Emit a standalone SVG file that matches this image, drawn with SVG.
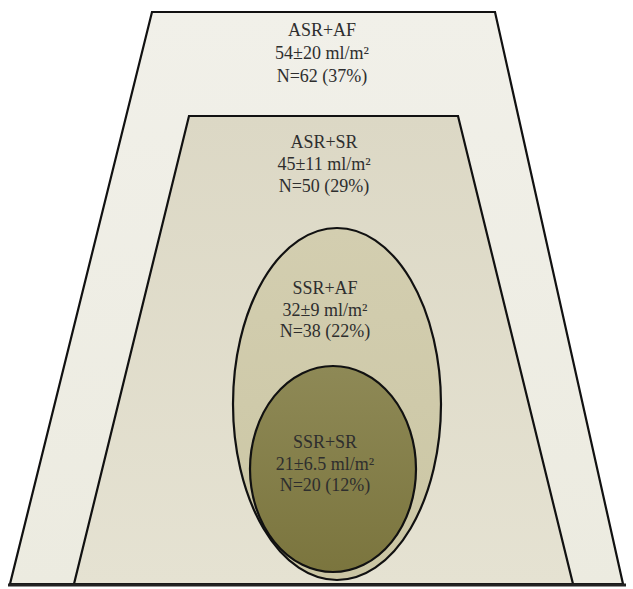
<svg xmlns="http://www.w3.org/2000/svg" width="633" height="589" viewBox="0 0 633 589">
  <defs>
    <linearGradient id="gOuter" x1="0" y1="0" x2="0" y2="1">
      <stop offset="0" stop-color="#f1f0e9"/>
      <stop offset="1" stop-color="#ecebe0"/>
    </linearGradient>
    <linearGradient id="gInner" x1="0" y1="0" x2="0" y2="1">
      <stop offset="0" stop-color="#dcd8c5"/>
      <stop offset="1" stop-color="#e5e2d2"/>
    </linearGradient>
    <linearGradient id="gBig" x1="0" y1="0" x2="0" y2="1">
      <stop offset="0" stop-color="#d3ceb0"/>
      <stop offset="1" stop-color="#cbc6a4"/>
    </linearGradient>
    <linearGradient id="gSmall" x1="0" y1="0" x2="0" y2="1">
      <stop offset="0" stop-color="#8e8956"/>
      <stop offset="1" stop-color="#7b753e"/>
    </linearGradient>
  </defs>
  <style>
    .shape { stroke: #111; stroke-width: 2.2; }
    .lbl { font-family: "Liberation Serif", "Times New Roman", serif; font-size: 18px; fill: #2e2e2e; text-anchor: middle; }
  </style>
  <rect width="633" height="589" fill="#ffffff"/>
  <g id="asr-af">
    <polygon class="shape" points="152,12 495,12 623,584 10,584" fill="url(#gOuter)"/>
    <text class="lbl" x="322" y="36">ASR+AF</text>
    <text class="lbl" x="322" y="59">54±20 ml/m²</text>
    <text class="lbl" x="322" y="82">N=62 (37%)</text>
  </g>
  <g id="asr-sr">
    <polygon class="shape" points="189,116 458,116 573,584 74,584" fill="url(#gInner)"/>
    <text class="lbl" x="324" y="148">ASR+SR</text>
    <text class="lbl" x="324" y="170">45±11 ml/m²</text>
    <text class="lbl" x="324" y="192">N=50 (29%)</text>
  </g>
  <g id="ssr-af">
    <ellipse class="shape" cx="337" cy="404" rx="104" ry="176" fill="url(#gBig)"/>
    <text class="lbl" x="325" y="294">SSR+AF</text>
    <text class="lbl" x="325" y="316">32±9 ml/m²</text>
    <text class="lbl" x="325" y="337">N=38 (22%)</text>
  </g>
  <g id="ssr-sr">
    <ellipse class="shape" cx="333" cy="469" rx="83" ry="103" fill="url(#gSmall)"/>
    <text class="lbl" x="325" y="448">SSR+SR</text>
    <text class="lbl" x="325" y="470">21±6.5 ml/m²</text>
    <text class="lbl" x="325" y="491">N=20 (12%)</text>
  </g>
  <g id="connectors">
    <line x1="8" y1="585" x2="626" y2="585" stroke="#222" stroke-width="3"/>
  </g>
</svg>
